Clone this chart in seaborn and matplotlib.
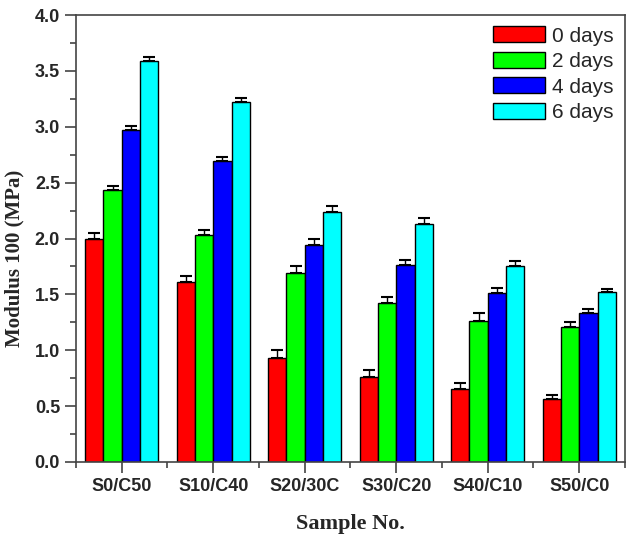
import numpy as np
import pandas as pd
import matplotlib
matplotlib.use("Agg")
import matplotlib.pyplot as plt
import seaborn as sns
from matplotlib.ticker import MultipleLocator, FixedLocator

samples = ["S0/C50", "S10/C40", "S20/30C", "S30/C20", "S40/C10", "S50/C0"]
days = ["0 days", "2 days", "4 days", "6 days"]
mod_0 = [2.00, 1.61, 0.93, 0.76, 0.65, 0.56]
mod_2 = [2.43, 2.03, 1.69, 1.42, 1.26, 1.21]
mod_4 = [2.97, 2.69, 1.94, 1.76, 1.51, 1.33]
mod_6 = [3.59, 3.22, 2.24, 2.13, 1.75, 1.52]
err_0 = [0.05, 0.05, 0.07, 0.06, 0.06, 0.04]
err_2 = [0.04, 0.05, 0.06, 0.06, 0.07, 0.04]
err_4 = [0.04, 0.04, 0.06, 0.05, 0.05, 0.04]
err_6 = [0.03, 0.04, 0.05, 0.05, 0.05, 0.03]
colors = ["#ff0000", "#00ff00", "#0000ff", "#00ffff"]

vals = [mod_0, mod_2, mod_4, mod_6]
errs = [err_0, err_2, err_4, err_6]
df = pd.DataFrame({
    "Sample": samples * 4,
    "Day": [d for d in days for _ in samples],
    "Modulus": [v for series in vals for v in series],
})

sns.set_style("ticks")
fig = plt.figure(figsize=(6.3, 5.37), dpi=100)
ax = fig.add_axes([0.1206, 0.1397, 0.8714, 0.8323])

sns.barplot(data=df, x="Sample", y="Modulus", hue="Day", order=samples,
            hue_order=days, palette=colors, saturation=1, errorbar=None,
            edgecolor="black", linewidth=1.0, width=0.8, ax=ax)

for cont, e in zip(ax.containers, errs):
    xs = [p.get_x() + p.get_width() / 2 for p in cont.patches]
    hs = [p.get_height() for p in cont.patches]
    ax.errorbar(xs, hs, yerr=[np.zeros(len(e)), e], fmt="none",
                ecolor="black", elinewidth=1.0, capsize=4, capthick=1.5)

ax.set_xlim(-0.5, 5.5)
ax.set_ylim(0, 4.0)
ax.yaxis.set_major_locator(MultipleLocator(0.5))
ax.yaxis.set_minor_locator(MultipleLocator(0.25))
ax.xaxis.set_minor_locator(FixedLocator(np.arange(-0.5, 6.0, 1.0)))

spine_color = "#444444"
for s in ax.spines.values():
    s.set_color(spine_color)
    s.set_linewidth(1.2)

ax.tick_params(axis="both", which="major", direction="out", length=8,
               width=1.2, color=spine_color, top=False, right=False)
ax.tick_params(axis="both", which="minor", direction="out", length=4.5,
               width=1.2, color=spine_color, top=False, right=False)

ax.set_xticks(range(len(samples)))
ax.set_xticklabels(samples, fontfamily="Liberation Sans", fontweight="bold",
                   fontsize=13)
yt = np.arange(0, 4.01, 0.5)
ax.set_yticks(yt)
ax.set_yticklabels([f"{v:.1f}" for v in yt],
                   fontfamily="Liberation Sans", fontweight="bold", fontsize=13)

ax.set_xlabel("Sample No.", fontfamily="Liberation Serif", fontweight="bold",
              fontsize=16, labelpad=14)
ax.set_ylabel("Modulus 100 (MPa)", fontfamily="Liberation Serif",
              fontweight="bold", fontsize=15)
ax.yaxis.set_label_coords(-0.093, 0.456)

leg = ax.legend(loc="upper right", frameon=False,
                prop={"family": "Liberation Sans", "size": 15},
                handlelength=2.5, handleheight=0.8, labelspacing=0.3,
                handletextpad=0.35, borderaxespad=0.15)
for h in leg.legend_handles:
    h.set_edgecolor("black")
    h.set_linewidth(1.0)

fig.savefig("out.png", dpi=100)
